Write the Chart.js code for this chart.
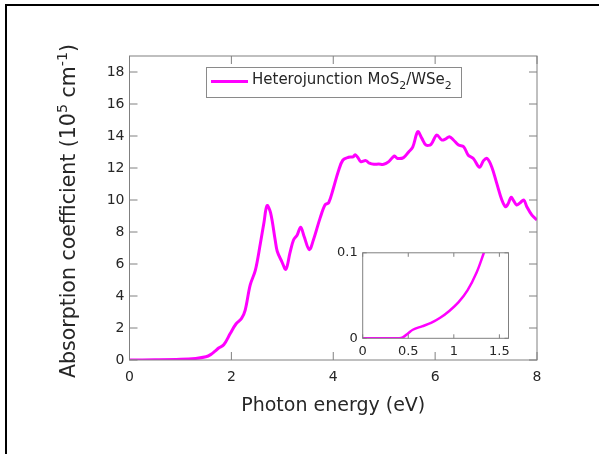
<!DOCTYPE html>
<html>
<head>
<meta charset="utf-8">
<script src="https://cdn.jsdelivr.net/npm/chart.js@4/dist/chart.umd.min.js"></script>
<style>
  html, body { margin: 0; padding: 0; background: #fff; }
  #wrap { position: relative; width: 599px; height: 454px; overflow: hidden; }
  #frame { position: absolute; left: 5px; top: 4px; right: -10px; bottom: -10px;
           border-top: 2px solid #000; border-left: 2px solid #000; }
  #mainChart { position: absolute; left: 0; top: 0; }
  #insetChart { position: absolute; left: 330px; top: 240px; }
</style>
</head>
<body>
<div id="wrap">
  <div id="frame"></div>
  <canvas id="mainChart" width="599" height="454"></canvas>
  <canvas id="insetChart" width="190" height="125"></canvas>
</div>
<script>
// 主图数据：光子能量 (eV) 与吸收系数 (10^5 cm^-1)
const energy = [0, 0.5, 1.0, 1.3, 1.5, 1.6, 1.68, 1.75, 1.85, 1.98, 2.09, 2.2, 2.27, 2.37, 2.47, 2.57, 2.64, 2.70, 2.77, 2.86,
  2.9, 2.99, 3.07, 3.15, 3.22, 3.29, 3.36, 3.43, 3.53, 3.61, 3.74, 3.84, 3.91, 4.0, 4.1, 4.19, 4.3, 4.39, 4.43, 4.48,
  4.54, 4.64, 4.71, 4.8, 4.89, 4.99, 5.09, 5.2, 5.26, 5.38, 5.48, 5.56, 5.66, 5.74, 5.82, 5.92, 6.03, 6.13, 6.2, 6.28,
  6.36, 6.46, 6.56, 6.65, 6.75, 6.87, 6.95, 7.02, 7.11, 7.21, 7.31, 7.38, 7.43, 7.49, 7.54, 7.6, 7.67, 7.74, 7.8, 7.9, 8.0];
const absorption = [0, 0.01, 0.04, 0.1, 0.2, 0.35, 0.55, 0.75, 0.95, 1.67, 2.25, 2.6, 3.1, 4.7, 5.6, 7.3, 8.6, 9.65, 9.2, 7.5,
  6.8, 6.15, 5.67, 6.7, 7.5, 7.8, 8.3, 7.7, 6.9, 7.5, 8.85, 9.7, 9.83, 10.7, 11.8, 12.5, 12.67, 12.7, 12.83, 12.67,
  12.4, 12.46, 12.3, 12.23, 12.25, 12.23, 12.4, 12.75, 12.6, 12.65, 13.0, 13.3, 14.27, 13.85, 13.44, 13.48, 14.06, 13.75, 13.8, 13.96,
  13.75, 13.44, 13.33, 12.8, 12.6, 12.04, 12.46, 12.6, 12.08, 11.04, 10.0, 9.58, 9.75, 10.17, 9.96, 9.69, 9.83, 10.0, 9.58, 9.06, 8.75];
const xTicks = [0, 2, 4, 6, 8];
const yTicks = [0, 2, 4, 6, 8, 10, 12, 14, 16, 18];

// 插图数据（带隙附近放大）
const insetEnergy = [0, 0.2, 0.4, 0.44, 0.5, 0.55, 0.65, 0.75, 0.85, 0.95, 1.05, 1.15, 1.25, 1.33];
const insetAbsorption = [0, 0, 0, 0.001, 0.006, 0.01, 0.014, 0.018, 0.024, 0.032, 0.042, 0.056, 0.077, 0.1];
const insetXTicks = [0, 0.5, 1, 1.5];
const insetYTicks = [0, 0.1];

const FONT = 'DejaVu Sans';
const LINE_COLOR = '#ff00ff';
const AXIS_COLOR = '#808080';
const TEXT_COLOR = '#262626';

// 画坐标框和朝内的刻度
function drawBox(chart, tickLen) {
  const { ctx, chartArea: a, scales } = chart;
  ctx.save();
  ctx.strokeStyle = AXIS_COLOR;
  ctx.lineWidth = 1;
  ctx.strokeRect(a.left, a.top, a.right - a.left, a.bottom - a.top);
  ctx.beginPath();
  scales.x.ticks.forEach(t => {
    const px = scales.x.getPixelForValue(t.value);
    ctx.moveTo(px, a.bottom); ctx.lineTo(px, a.bottom - tickLen);
    ctx.moveTo(px, a.top); ctx.lineTo(px, a.top + tickLen);
  });
  scales.y.ticks.forEach(t => {
    const py = scales.y.getPixelForValue(t.value);
    ctx.moveTo(a.left, py); ctx.lineTo(a.left + tickLen, py);
    ctx.moveTo(a.right, py); ctx.lineTo(a.right - tickLen, py);
  });
  ctx.stroke();
  ctx.restore();
}

// 依次画出带上下标的文字片段
function drawRich(ctx, parts, x, y, size) {
  let cx = x;
  parts.forEach(p => {
    const s = p.scale ? size * p.scale : size;
    ctx.font = `${s}px ${FONT}`;
    ctx.fillText(p.text, cx, y + (p.dy || 0));
    cx += ctx.measureText(p.text).width;
  });
  return cx - x;
}
function richWidth(ctx, parts, size) {
  let w = 0;
  parts.forEach(p => {
    ctx.font = `${p.scale ? size * p.scale : size}px ${FONT}`;
    w += ctx.measureText(p.text).width;
  });
  return w;
}

const yTitleParts = [
  { text: 'Absorption coefficient (10' },
  { text: '5', scale: 0.7, dy: -8.5 },
  { text: ' cm' },
  { text: '-1', scale: 0.7, dy: -8.5 },
  { text: ')' }
];
const legendParts = [
  { text: 'Heterojunction MoS' },
  { text: '2', scale: 0.73, dy: 5 },
  { text: '/WSe' },
  { text: '2', scale: 0.73, dy: 5 }
];

const mainDecor = {
  id: 'mainDecor',
  afterDraw(chart) {
    const { ctx, chartArea: a } = chart;
    drawBox(chart, 8);
    ctx.save();
    ctx.fillStyle = TEXT_COLOR;
    ctx.textBaseline = 'alphabetic';

    // x 轴标题
    ctx.font = `19px ${FONT}`;
    ctx.textAlign = 'center';
    ctx.fillText('Photon energy (eV)', (a.left + a.right) / 2, 411);

    // y 轴标题（旋转）
    ctx.textAlign = 'left';
    const w = richWidth(ctx, yTitleParts, 20.5);
    ctx.translate(75, 211);
    ctx.rotate(-Math.PI / 2);
    drawRich(ctx, yTitleParts, -w / 2, 0, 20.5);
    ctx.restore();

    // 图例
    ctx.save();
    ctx.fillStyle = '#fff';
    ctx.fillRect(206, 67, 255, 30);
    ctx.strokeStyle = '#8a8a8a';
    ctx.lineWidth = 1;
    ctx.strokeRect(206.5, 67.5, 255, 30);
    ctx.strokeStyle = LINE_COLOR;
    ctx.lineWidth = 3;
    ctx.beginPath();
    ctx.moveTo(211, 81.5); ctx.lineTo(248, 81.5);
    ctx.stroke();
    ctx.fillStyle = TEXT_COLOR;
    ctx.textAlign = 'left';
    drawRich(ctx, legendParts, 252, 84, 15);
    ctx.restore();
  }
};

const insetDecor = {
  id: 'insetDecor',
  beforeDatasetsDraw(chart) {
    const { ctx, chartArea: a } = chart;
    ctx.save();
    ctx.fillStyle = '#fff';
    ctx.fillRect(a.left, a.top, a.right - a.left, a.bottom - a.top);
    ctx.restore();
  },
  afterDraw(chart) {
    drawBox(chart, 4);
  }
};

new Chart(document.getElementById('mainChart'), {
  type: 'line',
  data: {
    datasets: [{
      label: 'Heterojunction MoS2/WSe2',
      data: energy.map((e, i) => ({ x: e, y: absorption[i] })),
      borderColor: LINE_COLOR,
      borderWidth: 3,
      pointRadius: 0,
      tension: 0.35,
      fill: false
    }]
  },
  options: {
    responsive: false,
    animation: false,
    layout: { padding: { top: 56, right: 62, bottom: 0, left: 0 } },
    plugins: { legend: { display: false }, tooltip: { enabled: false } },
    scales: {
      x: {
        type: 'linear', min: 0, max: 8,
        afterBuildTicks: s => { s.ticks = xTicks.map(v => ({ value: v })); },
        afterFit: s => { s.height = 94; },
        grid: { display: false, drawTicks: false },
        border: { display: false },
        ticks: { color: TEXT_COLOR, font: { family: FONT, size: 14 }, padding: 9, maxRotation: 0 }
      },
      y: {
        type: 'linear', min: 0, max: 19,
        afterBuildTicks: s => { s.ticks = yTicks.map(v => ({ value: v })); },
        afterFit: s => { s.width = 129.5; },
        grid: { display: false, drawTicks: false },
        border: { display: false },
        ticks: { color: TEXT_COLOR, font: { family: FONT, size: 14 }, padding: 5 }
      }
    }
  },
  plugins: [mainDecor]
});

new Chart(document.getElementById('insetChart'), {
  type: 'line',
  data: {
    datasets: [{
      data: insetEnergy.map((e, i) => ({ x: e, y: insetAbsorption[i] })),
      borderColor: LINE_COLOR,
      borderWidth: 2.5,
      pointRadius: 0,
      tension: 0.35,
      fill: false
    }]
  },
  options: {
    responsive: false,
    animation: false,
    layout: { padding: { top: 11.3, right: 11.5, bottom: 0, left: 0 } },
    plugins: { legend: { display: false }, tooltip: { enabled: false } },
    scales: {
      x: {
        type: 'linear', min: 0, max: 1.6,
        afterBuildTicks: s => { s.ticks = insetXTicks.map(v => ({ value: v })); },
        afterFit: s => { s.height = 26.7; },
        grid: { display: false, drawTicks: false },
        border: { display: false },
        ticks: { color: TEXT_COLOR, font: { family: FONT, size: 13 }, padding: 6, maxRotation: 0,
                 callback: v => String(v) }
      },
      y: {
        type: 'linear', min: 0, max: 0.1,
        afterBuildTicks: s => { s.ticks = insetYTicks.map(v => ({ value: v })); },
        afterFit: s => { s.width = 32.7; },
        grid: { display: false, drawTicks: false },
        border: { display: false },
        ticks: { color: TEXT_COLOR, font: { family: FONT, size: 13 }, padding: 5,
                 callback: v => String(v) }
      }
    }
  },
  plugins: [insetDecor]
});
</script>
</body>
</html>
